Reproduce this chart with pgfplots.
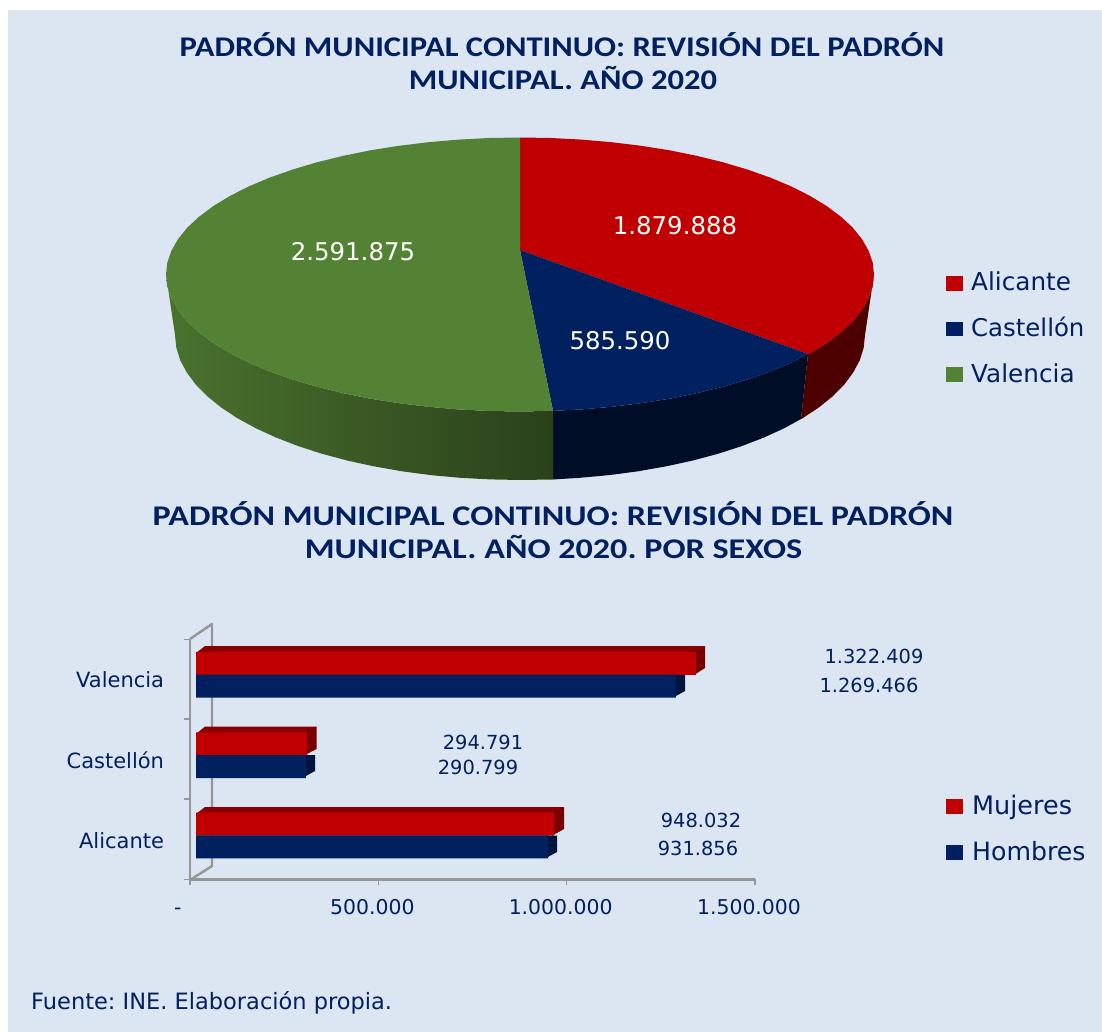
\documentclass[border=0pt]{standalone}
\usepackage{fontspec}
\usepackage{graphicx}
\setmainfont{DejaVu Sans}
\newfontfamily\titlefont{Carlito}[BoldFont={Carlito Bold}]
\usepackage{pgfplots}
\pgfplotsset{compat=1.18}
\definecolor{bg}{HTML}{DCE6F2}
\definecolor{rojo}{HTML}{C00000}
\definecolor{azul}{HTML}{002060}
\definecolor{verde}{HTML}{548235}
\definecolor{gris}{HTML}{969696}
\newcommand{\ttl}[2]{\scalebox{#1}[1]{\titlefont\fontsize{28.5}{33}\selectfont\bfseries\color{azul}#2}}
\frenchspacing
\begin{document}
\begin{tikzpicture}
% Pixel-sized canvas: page background, pie, bar faces and texts
\begin{axis}[at={(0pt,0pt)},anchor=south west,scale only axis,width=1102pt,height=1032pt,
  xmin=0,xmax=1102,ymin=0,ymax=1032,y dir=reverse,axis lines=none,clip=false]
\addplot[fill=white,draw=none] coordinates {(0,0)(1102,0)(1102,1032)(0,1032)} -- cycle;
\addplot[fill=bg,draw=none] coordinates {(8,10)(1102,10)(1102,1032)(8,1032)} -- cycle;
% pie sides
\addplot[fill=rojo!40!black,draw=none] coordinates {(808,354)(810,353.1)(826.6,343)(840.8,332.4)(852.7,321.4)(861.9,310)(868.6,298.3)(872.7,286.4)(874,274.5)(865,335)(863.7,347.6)(859.8,360.2)(853.2,372.5)(844.2,384.6)(832.7,396.3)(818.8,407.5)(802.6,418.2)(801,419)} -- cycle;
\addplot[fill=azul!40!black,draw=none] coordinates {(808,354)(791.2,362.6)(770.3,371.4)(747.6,379.4)(723.1,386.7)(697,393.1)(669.6,398.7)(641.1,403.2)(611.6,406.8)(581.5,409.4)(553,410.9)(553,479.5)(579.9,477.8)(609.3,475.1)(638,471.3)(665.8,466.4)(692.5,460.6)(717.9,453.8)(741.8,446.1)(764,437.5)(784.3,428.2)(801,419)} -- cycle;
\addplot[left color=verde!88!black,right color=verde!50!black,draw=none] coordinates {(553,410.9)(520,411.5)(489.1,411)(458.5,409.4)(428.4,406.8)(398.9,403.2)(370.4,398.7)(343,393.1)(316.9,386.7)(292.4,379.4)(269.7,371.4)(248.8,362.6)(230,353.1)(213.4,343)(199.2,332.4)(187.3,321.4)(178.1,310)(171.4,298.3)(167.3,286.4)(166,274.5)(175,335)(176.3,347.6)(180.2,360.2)(186.8,372.5)(195.8,384.6)(207.3,396.3)(221.2,407.5)(237.4,418.2)(255.7,428.2)(276,437.5)(298.2,446.1)(322.1,453.8)(347.5,460.6)(374.2,466.4)(402,471.3)(430.7,475.1)(460.1,477.8)(489.9,479.4)(520,480)(553,479.5)} -- cycle;
% pie top
\addplot[fill=rojo,draw=none] coordinates {(520,250)(520,137.5)(550.9,138)(581.5,139.6)(611.6,142.2)(641.1,145.8)(669.6,150.3)(697,155.9)(723.1,162.3)(747.6,169.6)(770.3,177.6)(791.2,186.4)(810,195.9)(826.6,206)(840.8,216.6)(852.7,227.6)(861.9,239)(868.6,250.7)(872.7,262.6)(874,274.5)(872.7,286.4)(868.6,298.3)(861.9,310)(852.7,321.4)(840.8,332.4)(826.6,343)(810,353.1)(808,354)} -- cycle;
\addplot[fill=azul,draw=none] coordinates {(520,250)(808,354)(791.2,362.6)(770.3,371.4)(747.6,379.4)(723.1,386.7)(697,393.1)(669.6,398.7)(641.1,403.2)(611.6,406.8)(581.5,409.4)(553,410.9)} -- cycle;
\addplot[fill=verde,draw=none] coordinates {(520,250)(553,410.9)(520,411.5)(489.1,411)(458.5,409.4)(428.4,406.8)(398.9,403.2)(370.4,398.7)(343,393.1)(316.9,386.7)(292.4,379.4)(269.7,371.4)(248.8,362.6)(230,353.1)(213.4,343)(199.2,332.4)(187.3,321.4)(178.1,310)(171.4,298.3)(167.3,286.4)(166,274.5)(167.3,262.6)(171.4,250.7)(178.1,239)(187.3,227.6)(199.2,216.6)(213.4,206)(230,195.9)(248.8,186.4)(269.7,177.6)(292.4,169.6)(316.9,162.3)(343,155.9)(370.4,150.3)(398.9,145.8)(428.4,142.2)(458.5,139.6)(489.1,138)(520,137.5)} -- cycle;
% legend keys
\addplot[fill=rojo,draw=none] coordinates {(946,276)(963,276)(963,291)(946,291)} -- cycle;
\addplot[fill=azul,draw=none] coordinates {(946,322)(963,322)(963,336)(946,336)} -- cycle;
\addplot[fill=verde,draw=none] coordinates {(946,367)(963,367)(963,382)(946,382)} -- cycle;
\addplot[fill=rojo,draw=none] coordinates {(946,799)(963,799)(963,814)(946,814)} -- cycle;
\addplot[fill=azul,draw=none] coordinates {(946,845)(963,845)(963,860)(946,860)} -- cycle;
% chart wall
\addplot[draw=gris,line width=2.4pt,line join=round] coordinates {(190,639)(212,624)(212,866)(190,880)};
% bar 3D faces (run slightly under the fronts, which are drawn later)
\addplot[fill=rojo!72!black,draw=none] coordinates {(196,653)(205,646)(705,646)(695,653)} -- cycle;
\addplot[fill=rojo!62!black,draw=none] coordinates {(694,652.5)(705,646)(705,668)(694,675)} -- cycle;
\addplot[fill=azul!65!black,draw=none] coordinates {(674,675)(685,675)(685,691)(674,697)} -- cycle;
\addplot[fill=rojo!72!black,draw=none] coordinates {(196,734)(205,726.5)(316.5,726.5)(307,734)} -- cycle;
\addplot[fill=rojo!62!black,draw=none] coordinates {(305,733)(316.5,726.5)(316.5,749)(305,755)} -- cycle;
\addplot[fill=azul!65!black,draw=none] coordinates {(304,755)(315,755)(315,771)(304,777)} -- cycle;
\addplot[fill=rojo!72!black,draw=none] coordinates {(196,814)(205,807)(564,807)(554,814)} -- cycle;
\addplot[fill=rojo!62!black,draw=none] coordinates {(552,813.5)(564,807)(564,829)(552,835.7)} -- cycle;
\addplot[fill=azul!65!black,draw=none] coordinates {(546,835.7)(557,835.7)(557,852)(546,858)} -- cycle;
% titles
\node[anchor=base,inner sep=0pt] at (axis cs:562,57) {\ttl{1.144}{PADRÓN MUNICIPAL CONTINUO: REVISIÓN DEL PADRÓN}};
\node[anchor=base,inner sep=0pt] at (axis cs:563,90) {\ttl{1.144}{MUNICIPAL. AÑO 2020}};
\node[anchor=base,inner sep=0pt] at (axis cs:553,525) {\ttl{1.198}{PADRÓN MUNICIPAL CONTINUO: REVISIÓN DEL PADRÓN}};
\node[anchor=base,inner sep=0pt] at (axis cs:553.5,558) {\ttl{1.198}{MUNICIPAL. AÑO 2020. POR SEXOS}};
% pie labels
\node[text=white,font=\fontsize{24.4}{28}\selectfont] at (axis cs:675,226) {1.879.888};
\node[text=white,font=\fontsize{24.4}{28}\selectfont] at (axis cs:620,341) {585.590};
\node[text=white,font=\fontsize{24.4}{28}\selectfont] at (axis cs:353,252) {2.591.875};
% legend texts
\node[text=azul,anchor=base west,inner sep=0pt,font=\fontsize{24.7}{28}\selectfont] at (axis cs:971,290.5) {Alicante};
\node[text=azul,anchor=base west,inner sep=0pt,font=\fontsize{24.4}{28}\selectfont] at (axis cs:971,336.5) {Castellón};
\node[text=azul,anchor=base west,inner sep=0pt,font=\fontsize{24.7}{28}\selectfont] at (axis cs:971,382.5) {Valencia};
\node[text=azul,anchor=base west,inner sep=0pt,font=\fontsize{25.5}{28}\selectfont] at (axis cs:972,814.5) {Mujeres};
\node[text=azul,anchor=base west,inner sep=0pt,font=\fontsize{25.2}{28}\selectfont] at (axis cs:972,860.5) {Hombres};
% bar data labels
\node[text=azul,font=\fontsize{19.4}{23}\selectfont] at (axis cs:874,656) {1.322.409};
\node[text=azul,font=\fontsize{19.4}{23}\selectfont] at (axis cs:869,685) {1.269.466};
\node[text=azul,font=\fontsize{19.4}{23}\selectfont] at (axis cs:483,742) {294.791};
\node[text=azul,font=\fontsize{19.4}{23}\selectfont] at (axis cs:478,767) {290.799};
\node[text=azul,font=\fontsize{19.4}{23}\selectfont] at (axis cs:701,820) {948.032};
\node[text=azul,font=\fontsize{19.4}{23}\selectfont] at (axis cs:698,848) {931.856};
% source
\node[text=azul,anchor=base west,inner sep=0pt,font=\fontsize{22.5}{26}\selectfont] at (axis cs:31,1009) {Fuente: INE. Elaboración propia.};
\end{axis}
% Axis frame of the bar chart
\begin{axis}[at={(190pt,152.5pt)},anchor=south west,scale only axis,width=565pt,height=240pt,
  xmin=0,xmax=1500000,ymin=-0.54,ymax=2.448,
  axis lines*=left,axis line style={gris,line width=2.4pt},
  tick style={gris,line width=1.4pt},tick align=outside,
  major tick length=6pt,scaled x ticks=false,
  xtick={0,500000,1000000,1500000},
  xticklabels={\makebox[20pt][l]{\rule{0pt}{15pt}-},500.000,1.000.000,1.500.000},
  ytick={-0.54,0.46,1.46,2.448},yticklabels={},
  xticklabel style={text=azul,font=\fontsize{20.4}{24}\selectfont,xshift=-6pt,yshift=-10pt},
  clip=false]
\end{axis}
% Bars with the real values
\begin{axis}[at={(196pt,153pt)},anchor=south west,scale only axis,width=567pt,height=240pt,
  xmin=0,xmax=1500000,ymin=-0.54,ymax=2.448,axis lines=none,clip=false]
\addplot[xbar,bar width=23pt,bar shift=11.5pt,fill=rojo,draw=none] coordinates {(948032,0)(294791,1)(1322409,2)};
\addplot[xbar,bar width=23pt,bar shift=-11.25pt,fill=azul,draw=none] coordinates {(931856,0)(290799,1)(1269466,2)};
\node[text=azul,anchor=east,inner sep=0pt,font=\fontsize{21}{24}\selectfont] at (axis cs:-84000,-0.06) {Alicante};
\node[text=azul,anchor=east,inner sep=0pt,font=\fontsize{21}{24}\selectfont] at (axis cs:-84000,0.94) {Castellón};
\node[text=azul,anchor=east,inner sep=0pt,font=\fontsize{21}{24}\selectfont] at (axis cs:-84000,1.94) {Valencia};
\end{axis}
\end{tikzpicture}
\end{document}
